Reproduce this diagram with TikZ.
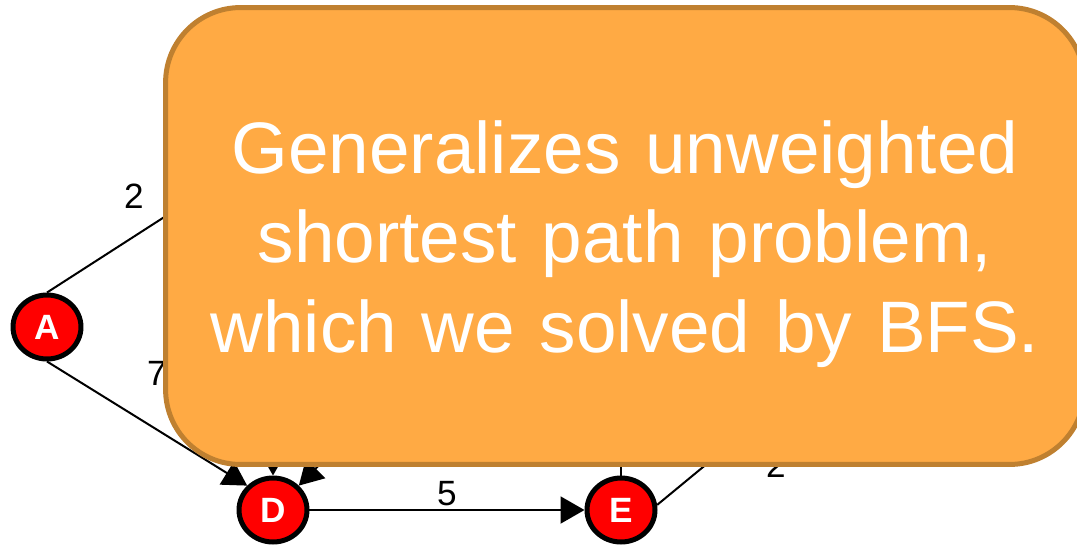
\documentclass[tikz,border=0pt]{standalone}
\usepackage{fontspec}
\newfontfamily\arialfont{Liberation Sans}
\usetikzlibrary{arrows.meta, positioning, shapes.geometric}
\definecolor{noteorange}{HTML}{FFAA44}
\definecolor{noteedge}{HTML}{BF8030}
\newcommand{\notefont}{\arialfont\fontsize{41.5}{51}\selectfont\spaceskip=0.34em plus 0.1em\relax}
\tikzset{
  vertex/.style={ellipse, draw=black, fill=red, line width=0.1cm,
                 inner sep=0pt, minimum width=1.36cm, minimum height=1.28cm,
                 text=white, font=\arialfont\bfseries\fontsize{20}{24}\selectfont},
  edge/.style={line width=0.04cm},
  diredge/.style={line width=0.04cm, -{Triangle[length=0.48cm, width=0.54cm]}},
  weight/.style={font=\arialfont\fontsize{20}{24}\selectfont},
  notebox/.style={draw=noteedge, fill=noteorange, line width=0.1cm,
                 rounded corners=1.5cm, minimum width=18.38cm, minimum height=9.14cm,
                 text=white, align=center, font=\notefont},
}
\begin{document}
\begin{tikzpicture}[x=0.02cm, y=-0.02cm]
    \clip (0,0) rectangle (1077,545);
    %% visible vertices
    \node[vertex] (A) at (47,327)  {A};
    \node[vertex] (D) at (273,510) {D};
    \node[vertex] (E) at (621,510) {E};
    %% far ends, under the note
    \coordinate (b) at (270,149);
    \coordinate (c) at (273,300);
    \coordinate (f) at (448,335);
    \coordinate (g) at (621,300);
    \coordinate (h) at (897,307);
    %% edges
    \draw[edge] (A.north) -- (b);
    \draw[diredge] (A.south) -- (D.north west);
    \draw[diredge] (c) -- (D.north);
    \draw[diredge] (f) -- (D.north east);
    \draw[diredge] (D) -- (E);
    \draw[edge] (E.north) -- (g);
    \draw[edge] (E.8) -- (h);
    %% weights
    \node[weight] (w1) at (134,196) {2};
    \node[weight] (w2) at (157,373) {7};
    \node[weight] (w3) at (447,494) {5};
    \node[weight] (w4) at (776,465) {2};
    %% the note on top
    \node[notebox] (note) at (625,236)
      {\rule{0pt}{39pt}Generalizes unweighted\\shortest path problem,\\which we solved by BFS.};
\end{tikzpicture}
\end{document}
